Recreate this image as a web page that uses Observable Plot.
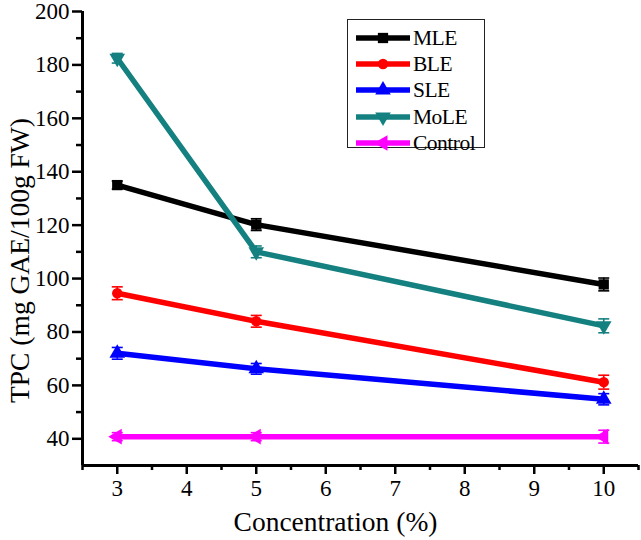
<!DOCTYPE html>
<html><head><meta charset="utf-8">
<script src="https://cdn.jsdelivr.net/npm/d3@7"></script>
<script src="https://cdn.jsdelivr.net/npm/@observablehq/plot@0.6"></script>
<style>
body{margin:0;background:#fff;}
#wrap{position:relative;width:641px;height:540px;font-family:'Liberation Serif','Times New Roman',Tinos,'Nimbus Roman','DejaVu Serif',serif;}
#wrap svg text{font-family:'Liberation Serif','Times New Roman',Tinos,'Nimbus Roman','DejaVu Serif',serif;}
#legend{position:absolute;left:347px;top:19px;width:138px;height:129px;border:1.3px solid #222;box-sizing:border-box;background:#fff;}
.row{position:absolute;left:0;width:136px;height:24px;}
.row svg{position:absolute;left:7px;top:0;}
.row span{position:absolute;left:65px;top:0;line-height:24px;font-size:21.5px;color:#000;white-space:nowrap;letter-spacing:-0.5px;}
</style></head><body><div id="wrap"><div id="legend"></div></div>
<script>
// ---- data ----
const concentration = [3, 5, 10];
const seriesNames = ["MLE", "BLE", "SLE", "MoLE", "Control"];
const seriesColors = ["#000000", "#ff0000", "#0000ff", "#148080", "#ff00ff"];
const seriesSymbols = ["square", "circle", "triangleUp", "triangleDown", "triangleLeft"];
const mleValues = [135.0, 120.2, 97.8];
const mleErrors = [1.5, 2.2, 2.4];
const bleValues = [94.5, 84.0, 61.2];
const bleErrors = [2.4, 2.2, 2.6];
const sleValues = [72.0, 66.2, 54.8];
const sleErrors = [2.2, 2.0, 2.1];
const moleValues = [182.5, 110.0, 82.3];
const moleErrors = [1.8, 2.2, 2.6];
const controlValues = [40.8, 40.8, 40.8];
const controlErrors = [1.5, 1.5, 2.4];
const xTicks = [3, 4, 5, 6, 7, 8, 9, 10];
const xMinorTicks = [2.5, 3.5, 4.5, 5.5, 6.5, 7.5, 8.5, 9.5, 10.5];
const yTicks = [40, 60, 80, 100, 120, 140, 160, 180, 200];
const yMinorTicks = [50, 70, 90, 110, 130, 150, 170, 190];
const xTitle = "Concentration (%)";
const yTitle = "TPC (mg GAE/100g FW)";

const valueLists = [mleValues, bleValues, sleValues, moleValues, controlValues];
const errorLists = [mleErrors, bleErrors, sleErrors, moleErrors, controlErrors];
const serifStack = "'Liberation Serif', 'Times New Roman', Tinos, 'Nimbus Roman', 'DejaVu Serif', serif";

// ---- symbols ----
function triSide(size) { return Math.sqrt(4 * size / Math.sqrt(3)); }
const symbolDefs = {
  square: d3.symbolSquare,
  circle: d3.symbolCircle,
  triangleUp: {draw(c, size) { const a = triSide(size), h = a * Math.sqrt(3) / 2;
    c.moveTo(0, -2 * h / 3); c.lineTo(a / 2, h / 3); c.lineTo(-a / 2, h / 3); c.closePath(); }},
  triangleDown: {draw(c, size) { const a = triSide(size), h = a * Math.sqrt(3) / 2;
    c.moveTo(-a / 2, -h / 3); c.lineTo(a / 2, -h / 3); c.lineTo(0, 2 * h / 3); c.closePath(); }},
  triangleLeft: {draw(c, size) { const a = triSide(size), h = a * Math.sqrt(3) / 2;
    c.moveTo(-2 * h / 3, 0); c.lineTo(h / 3, -a / 2); c.lineTo(h / 3, a / 2); c.closePath(); }}
};
const capSymbol = {draw(c, size) { const r = Math.sqrt(size / Math.PI); c.moveTo(-r, 0); c.lineTo(r, 0); }};

// ---- tidy rows ----
const rows = seriesNames.flatMap((name, s) => concentration.map((x, i) => ({
  series: name, x, y: valueLists[s][i], lo: valueLists[s][i] - errorLists[s][i], hi: valueLists[s][i] + errorLists[s][i]
})));

const seriesMarks = seriesNames.flatMap((name, s) => {
  const d = rows.filter(r => r.series === name);
  const color = seriesColors[s];
  return [
    Plot.line(d, {x: "x", y: "y", stroke: color, strokeWidth: 5.5, strokeLinejoin: "round"}),
    Plot.ruleX(d, {x: "x", y1: "lo", y2: "hi", stroke: color, strokeWidth: 1.6}),
    Plot.dot(d, {x: "x", y: "lo", symbol: capSymbol, r: 5.5, stroke: color, strokeWidth: 1.6, fill: "none"}),
    Plot.dot(d, {x: "x", y: "hi", symbol: capSymbol, r: 5.5, stroke: color, strokeWidth: 1.6, fill: "none"}),
    Plot.dot(d, {x: "x", y: "y", symbol: symbolDefs[seriesSymbols[s]], r: s === 1 ? 5.2 : 5.8, fill: color, stroke: "none"})
  ];
});

const chart = Plot.plot({
  width: 641, height: 540,
  marginLeft: 82, marginRight: 3, marginTop: 11, marginBottom: 75,
  style: {fontFamily: serifStack, fontSize: "23px", color: "#000", background: "#fff"},
  x: {domain: [2.5, 10.5]},
  y: {domain: [30, 200]},
  marks: [
    Plot.axisY({ticks: yTicks, tickSize: 10, tickPadding: 3, fontSize: 23, strokeWidth: 2.5, label: null}),
    Plot.axisY({ticks: yMinorTicks, tickSize: 6, tickFormat: () => "", strokeWidth: 2.5, label: null}),
    Plot.axisX({ticks: xTicks, tickSize: 9, tickPadding: 5, fontSize: 23, strokeWidth: 2.5, label: null}),
    Plot.axisX({ticks: xMinorTicks, tickSize: 5, tickFormat: () => "", strokeWidth: 2.5, label: null}),
    Plot.ruleY([30], {strokeWidth: 3}),
    Plot.ruleX([2.5], {strokeWidth: 3}),
    Plot.text([xTitle], {frameAnchor: "bottom", textAnchor: "middle", dx: -25, dy: 57, fontSize: 27.5, lineAnchor: "middle"}),
    Plot.text([yTitle], {frameAnchor: "left", textAnchor: "middle", rotate: -90, dx: -62, dy: 22, fontSize: 27.5, lineAnchor: "middle"}),
    ...seriesMarks
  ]
});
document.getElementById("wrap").prepend(chart);

// ---- legend (HTML) ----
const legend = document.getElementById("legend");
const rowCenters = [17.5, 44, 70, 96.5, 122.5];
seriesNames.forEach((name, s) => {
  const row = document.createElement("div");
  row.className = "row";
  row.style.top = (rowCenters[s] - 12) + "px";
  const svg = d3.create("svg").attr("width", 56).attr("height", 24);
  svg.append("line").attr("x1", 1).attr("x2", 55).attr("y1", 12).attr("y2", 12)
    .attr("stroke", seriesColors[s]).attr("stroke-width", 5.5);
  const r = s === 1 ? 5.2 : 5.8;
  svg.append("path").attr("transform", "translate(28,12)")
    .attr("d", d3.symbol(symbolDefs[seriesSymbols[s]], Math.PI * r * r)())
    .attr("fill", seriesColors[s]);
  row.appendChild(svg.node());
  const span = document.createElement("span");
  span.textContent = name;
  row.appendChild(span);
  legend.appendChild(row);
});
</script></body></html>
